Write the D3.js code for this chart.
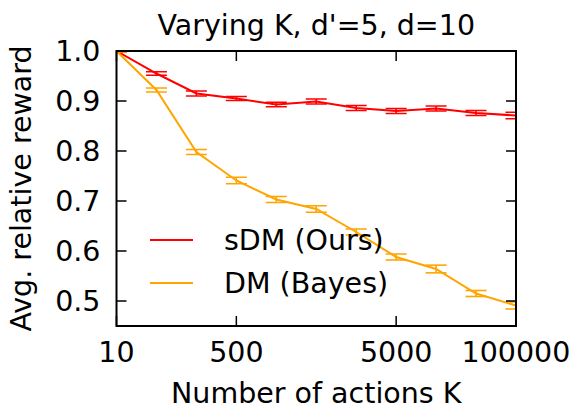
<!DOCTYPE html>
<html>
<head>
<meta charset="utf-8">
<script src="https://cdn.jsdelivr.net/npm/d3@7"></script>
<style>
  body { margin: 0; background: #fff; }
  svg { font-family: "DejaVu Sans", sans-serif; }
</style>
</head>
<body>
<div id="chart"></div>
<script>
const width = 574, height = 409;

// data (x = position index of K value)
const xIdx = [0, 1, 2, 3, 4, 5, 6, 7, 8, 9, 10];
const sdmMean = [1.0, 0.955, 0.915, 0.905, 0.893, 0.899, 0.886, 0.880, 0.885, 0.876, 0.871];
const sdmErr  = [0.002, 0.0035, 0.005, 0.004, 0.0045, 0.005, 0.005, 0.005, 0.005, 0.005, 0.0065];
const dmMean  = [1.0, 0.922, 0.798, 0.741, 0.703, 0.684, 0.638, 0.588, 0.564, 0.515, 0.491];
const dmErr   = [0.002, 0.004, 0.005, 0.0065, 0.006, 0.0065, 0.006, 0.006, 0.0077, 0.006, 0.007];
const xTickPos = [0, 3, 7, 10];
const xTickLabels = ["10", "500", "5000", "100000"];
const yTicks = [0.5, 0.6, 0.7, 0.8, 0.9, 1.0];

const series = [
  { name: "sDM (Ours)", color: "#ff0000", mean: sdmMean, err: sdmErr },
  { name: "DM (Bayes)", color: "#ffa500", mean: dmMean, err: dmErr }
];

const margin = { left: 116.5, right: 58, top: 51, bottom: 83 };
const x = d3.scaleLinear().domain([0, 10]).range([margin.left, width - margin.right]);
const y = d3.scaleLinear().domain([0.45, 1.0]).range([height - margin.bottom, margin.top]);

const svg = d3.select("#chart").append("svg")
    .attr("width", width)
    .attr("height", height);

const fs = 28.5;

svg.append("clipPath").attr("id", "clip")
  .append("rect")
    .attr("x", x(0)).attr("y", y(1.0))
    .attr("width", x(10) - x(0)).attr("height", y(0.45) - y(1.0));

const plot = svg.append("g").attr("clip-path", "url(#clip)");

const line = d3.line().x((d, i) => x(xIdx[i])).y(d => y(d));
const capW = 10.5;

series.forEach(s => {
  plot.append("path")
    .datum(s.mean)
    .attr("fill", "none")
    .attr("stroke", s.color)
    .attr("stroke-width", 2)
    .attr("d", line);

  const eb = plot.append("g").attr("stroke", s.color).attr("stroke-width", 1.6);
  s.mean.forEach((m, i) => {
    const cx = x(xIdx[i]);
    eb.append("line")
      .attr("x1", cx).attr("x2", cx)
      .attr("y1", y(m - s.err[i])).attr("y2", y(m + s.err[i]));
    [m - s.err[i], m + s.err[i]].forEach(v => {
      eb.append("line")
        .attr("x1", cx - capW).attr("x2", cx + capW)
        .attr("y1", y(v)).attr("y2", y(v));
    });
  });
});

// axes: ticks point inward on all four sides
const tickLen = 10;
const axes = svg.append("g").attr("stroke", "#000").attr("stroke-width", 1.5);
xTickPos.forEach(p => {
  axes.append("line").attr("x1", x(p)).attr("x2", x(p))
    .attr("y1", y(0.45)).attr("y2", y(0.45) - tickLen);
  axes.append("line").attr("x1", x(p)).attr("x2", x(p))
    .attr("y1", y(1.0)).attr("y2", y(1.0) + tickLen);
});
yTicks.forEach(t => {
  axes.append("line").attr("x1", x(0)).attr("x2", x(0) + tickLen)
    .attr("y1", y(t)).attr("y2", y(t));
  axes.append("line").attr("x1", x(10)).attr("x2", x(10) - tickLen)
    .attr("y1", y(t)).attr("y2", y(t));
});

svg.append("rect")
    .attr("x", x(0)).attr("y", y(1.0))
    .attr("width", x(10) - x(0)).attr("height", y(0.45) - y(1.0))
    .attr("fill", "none")
    .attr("stroke", "#000")
    .attr("stroke-width", 2);

// tick labels
svg.selectAll(".xlab")
  .data(xTickPos)
  .enter().append("text")
    .attr("x", d => x(d))
    .attr("y", y(0.45) + 36)
    .attr("text-anchor", "middle")
    .attr("font-size", fs)
    .text((d, i) => xTickLabels[i]);

svg.selectAll(".ylab")
  .data(yTicks)
  .enter().append("text")
    .attr("x", x(0) - 16)
    .attr("y", d => y(d) + 10)
    .attr("text-anchor", "end")
    .attr("font-size", fs)
    .text(d => d.toFixed(1));

// titles
svg.append("text")
    .attr("x", (x(0) + x(10)) / 2)
    .attr("y", 34.5)
    .attr("text-anchor", "middle")
    .attr("font-size", fs)
    .text("Varying K, d'=5, d=10");

svg.append("text")
    .attr("x", (x(0) + x(10)) / 2)
    .attr("y", 402.5)
    .attr("text-anchor", "middle")
    .attr("font-size", fs)
    .text("Number of actions K");

svg.append("text")
    .attr("transform", `translate(31,${(y(0.45) + y(1.0)) / 2}) rotate(-90)`)
    .attr("text-anchor", "middle")
    .attr("font-size", fs)
    .text("Avg. relative reward");

// legend (no frame)
const legend = svg.append("g");
series.forEach((s, i) => {
  const ly = 240 + i * 43;
  legend.append("line")
    .attr("x1", 150).attr("x2", 193)
    .attr("y1", ly).attr("y2", ly)
    .attr("stroke", s.color)
    .attr("stroke-width", 2);
  legend.append("text")
    .attr("x", 224)
    .attr("y", ly + 10)
    .attr("font-size", fs)
    .text(s.name);
});
</script>
</body>
</html>
